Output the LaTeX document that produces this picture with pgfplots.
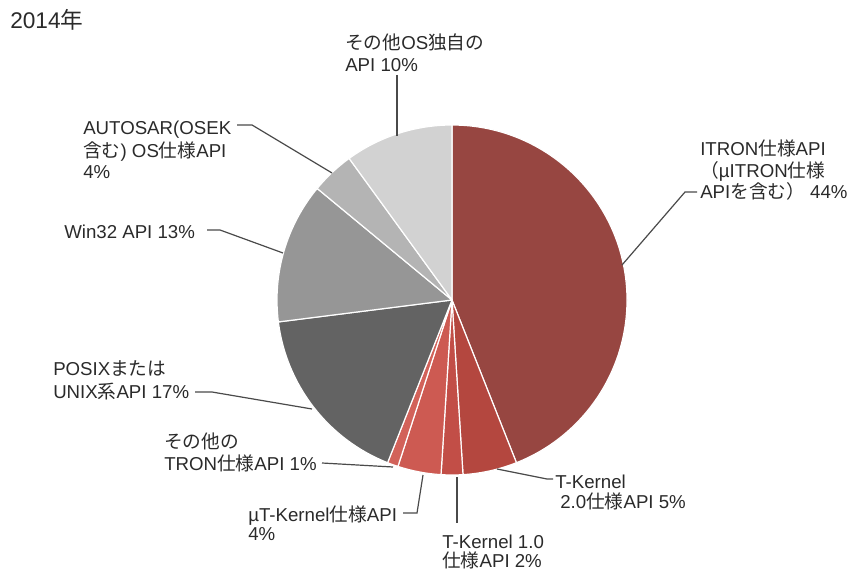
\documentclass[border=0pt]{standalone}
\usepackage{pgfplots}
\pgfplotsset{compat=1.18}
\usepackage{fontspec}
\setmainfont{Liberation Sans}
\newfontfamily\jp{Noto Sans CJK JP}

\definecolor{itron}{HTML}{974641}
\definecolor{tk2}{HTML}{B4473F}
\definecolor{tk1}{HTML}{C24E47}
\definecolor{mutk}{HTML}{CD5A52}
\definecolor{otron}{HTML}{D2625A}
\definecolor{posix}{HTML}{636363}
\definecolor{win}{HTML}{969696}
\definecolor{autosar}{HTML}{B4B4B4}
\definecolor{oos}{HTML}{D2D2D2}
\definecolor{txt}{HTML}{2A2A2A}
\definecolor{lead}{HTML}{4A4A4A}

% slice: start (cumulative %), share (%), colour; clockwise from the top
\newcommand\slice[3]{%
  \fill[#3, draw=white, line width=0.9pt, line join=round]
    (axis cs:452,300) -- ++({90-3.6*#1}:131.25pt)
    arc[start angle={90-3.6*#1}, end angle={90-3.6*(#1+#2)}, radius=131.25pt] -- cycle;}

\begin{document}
\begin{tikzpicture}
\begin{axis}[
  scale only axis,
  width=636pt, height=430.5pt,
  xmin=0, xmax=848, ymin=0, ymax=574,
  y dir=reverse,
  hide axis, clip=false,
]
\path (axis cs:0,0) rectangle (axis cs:848,574);

% shares in percent
\slice{0}{44}{itron}
\slice{44}{5}{tk2}
\slice{49}{2}{tk1}
\slice{51}{4}{mutk}
\slice{55}{1}{otron}
\slice{56}{17}{posix}
\slice{73}{13}{win}
\slice{86}{4}{autosar}
\slice{90}{10}{oos}

% leader lines
\begin{scope}[lead, line width=0.9pt]
\draw (axis cs:397,75) -- (axis cs:397,136);
\draw (axis cs:237,125) -- (axis cs:252,125) -- (axis cs:332,173);
\draw (axis cs:207,230) -- (axis cs:220,230) -- (axis cs:283,253);
\draw (axis cs:195,392) -- (axis cs:212,392) -- (axis cs:312,409);
\draw (axis cs:322,463) -- (axis cs:393,467);
\draw (axis cs:403,513) -- (axis cs:417,513) -- (axis cs:423,475);
\draw (axis cs:457,477) -- (axis cs:457,523);
\draw (axis cs:497,469) -- (axis cs:547,479) -- (axis cs:553,479);
\draw (axis cs:697,192) -- (axis cs:685,192) -- (axis cs:622,265);
\end{scope}

% labels
\begin{scope}[every node/.style={anchor=base west, inner sep=0pt, text=txt,
    font=\fontsize{14}{16}\selectfont}]
\node at (axis cs:345,50) {{\jp その他}OS{\jp 独自の}};
\node at (axis cs:345,72) {API 10\%};
\node at (axis cs:83,135) {AUTOSAR(OSEK};
\node at (axis cs:83,157) {{\jp 含む}) OS{\jp 仕様}API};
\node at (axis cs:83,178) {4\%};
\node at (axis cs:64,238) {Win32 API 13\%};
\node at (axis cs:53,375) {POSIX{\jp または}};
\node at (axis cs:53,398) {UNIX{\jp 系}API 17\%};
\node at (axis cs:164,448) {{\jp その他の}};
\node at (axis cs:164,470) {TRON{\jp 仕様}API 1\%};
\node at (axis cs:248,521) {µT-Kernel{\jp 仕様}API};
\node at (axis cs:248,540) {4\%};
\node at (axis cs:442,548) {T-Kernel 1.0};
\node at (axis cs:442,567) {{\jp 仕様}API 2\%};
\node at (axis cs:555,488) {T-Kernel};
\node at (axis cs:560,508) {2.0{\jp 仕様}API 5\%};
\node at (axis cs:700,155) {ITRON{\jp 仕様}API};
\node at (axis cs:700,177) {{\jp （}µITRON{\jp 仕様}};
\node at (axis cs:700,198) {API{\jp を含む）} 44\%};
\node[font=\fontsize{17}{19}\selectfont] at (axis cs:10,29) {2014{\jp 年}};
\end{scope}
\end{axis}
\end{tikzpicture}
\end{document}
